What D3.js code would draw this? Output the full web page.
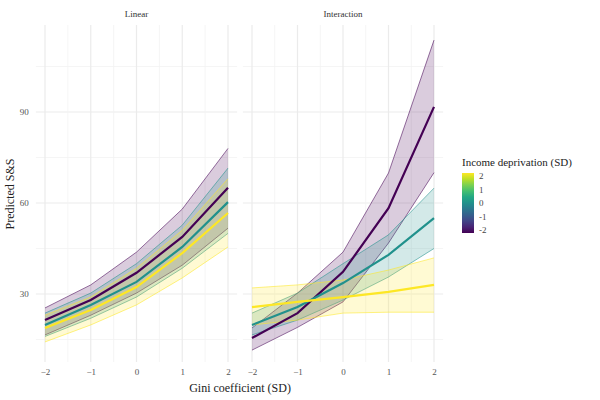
<!DOCTYPE html><html><head><meta charset="utf-8"><script src="https://cdn.jsdelivr.net/npm/d3@7"></script>
<style>body{margin:0;background:#fff}text{font-family:"Liberation Serif",serif}</style></head><body><svg id="c" width="600" height="400"></svg>
<script>
const xs=[-2,-1,0,1,2];
const panels=["Linear","Interaction"];
const levels=[-2,0,2];
// Linear panel
const linMean={"-2":[21.4,28,37,48.8,65],"0":[19.8,26.4,34,45.5,60.3],"2":[18.8,24.7,32.3,43.5,56.7]};
const linUpper={"-2":[25.4,33,43.8,58,78],"0":[23.7,30.3,40,52.7,71.5],"2":[23,29,38.5,51,68]};
const linLower={"-2":[16.5,23,30.3,39.5,51.7],"0":[16,22,29,38.5,50],"2":[14.2,19.8,26.4,35.3,45.5]};
// Interaction panel
const intMean={"-2":[15.5,23.7,37.3,58.3,91.7],"0":[19.8,25.7,33.6,42.9,55],"2":[25.7,27.4,29,30.7,33]};
const intUpper={"-2":[18.8,30.3,43.8,69.9,113.7],"0":[23.7,30.3,40,49.5,64.9],"2":[32,33,34.6,37.9,41.9]};
const intLower={"-2":[11.5,19,27.4,46.8,70],"0":[16.5,21.4,28,35.6,45],"2":[19.8,21.4,23.7,24,24]};
const yTicks=[30,60,90];
const legendTicks=[2,1,0,-1,-2];
const data=[[linMean,linUpper,linLower],[intMean,intUpper,intLower]];

const svg=d3.select("#c");
const col=d3.scaleSequential(d3.interpolateViridis).domain([-2,2]);
const y=d3.scaleLinear().domain([30,90]).range([294,112]);
const yTop=25,yBot=362;
const xr=[[45,228],[252,434]];
panels.forEach((p,i)=>{
  const x=d3.scaleLinear().domain([-2,2]).range(xr[i]);
  const g=svg.append("g");
  const x0=x(-2.2),x1=x(2.2);
  [15,45,75,105].forEach(v=>g.append("line").attr("x1",x0).attr("x2",x1).attr("y1",y(v)).attr("y2",y(v)).attr("stroke","#f2f2f2").attr("stroke-width",0.8));
  yTicks.forEach(v=>g.append("line").attr("x1",x0).attr("x2",x1).attr("y1",y(v)).attr("y2",y(v)).attr("stroke","#ebebeb").attr("stroke-width",1.2));
  [-1.5,-0.5,0.5,1.5].forEach(v=>g.append("line").attr("x1",x(v)).attr("x2",x(v)).attr("y1",yTop).attr("y2",yBot).attr("stroke","#f2f2f2").attr("stroke-width",0.8));
  xs.forEach(v=>g.append("line").attr("x1",x(v)).attr("x2",x(v)).attr("y1",yTop).attr("y2",yBot).attr("stroke","#ebebeb").attr("stroke-width",1.2));
  g.append("text").attr("x",(xr[i][0]+xr[i][1])/2).attr("y",17).attr("text-anchor","middle").attr("font-size",9).attr("fill","#333").text(p);
  const ax=g.append("g").attr("transform",`translate(0,${yBot+4})`).call(d3.axisBottom(x).tickValues(xs).tickSize(0).tickFormat(d3.format("d")));
  ax.select(".domain").remove();
  ax.selectAll("text").attr("font-family","Liberation Serif").attr("font-size",9).attr("fill","#555");
  if(i===0){
    const ay=g.append("g").attr("transform",`translate(${x0-4},0)`).call(d3.axisLeft(y).tickValues(yTicks).tickSize(0));
    ay.select(".domain").remove();
    ay.selectAll("text").attr("font-family","Liberation Serif").attr("font-size",9).attr("fill","#555");
  }
  const [M,U,L]=data[i];
  const area=d3.area().x((d,j)=>x(xs[j])).y0(d=>d[0]).y1(d=>d[1]);
  const line=d3.line().x((d,j)=>x(xs[j])).y(d=>y(d));
  levels.forEach(l=>{
    const c=col(l);
    const pts=U[l].map((u,j)=>[y(L[l][j]),y(u)]);
    g.append("path").attr("d",area(pts)).attr("fill",c).attr("fill-opacity",0.2).attr("stroke","none");
    g.append("path").attr("d",line(U[l])).attr("fill","none").attr("stroke",c).attr("stroke-width",0.8).attr("stroke-opacity",0.7);
    g.append("path").attr("d",line(L[l])).attr("fill","none").attr("stroke",c).attr("stroke-width",0.8).attr("stroke-opacity",0.7);
  });
  levels.forEach(l=>{
    g.append("path").attr("d",line(M[l])).attr("fill","none").attr("stroke",col(l)).attr("stroke-width",2.2);
  });
});
svg.append("text").attr("x",240).attr("y",392).attr("text-anchor","middle").attr("font-size",12).attr("fill","#222").text("Gini coefficient (SD)");
svg.append("text").attr("transform","translate(14,194) rotate(-90)").attr("text-anchor","middle").attr("font-size",12).attr("fill","#222").text("Predicted S&S");
// legend
const lg=svg.append("g");
lg.append("text").attr("x",462).attr("y",166).attr("font-size",11).attr("fill","#222").text("Income deprivation (SD)");
const ly=d3.scaleLinear().domain([2,-2]).range([176,230]);
const defs=svg.append("defs");
const grad=defs.append("linearGradient").attr("id","gr").attr("x1",0).attr("x2",0).attr("y1",0).attr("y2",1);
d3.range(0,1.01,0.1).forEach(t=>grad.append("stop").attr("offset",t).attr("stop-color",col(2-4*t)));
lg.append("rect").attr("x",462).attr("y",173).attr("width",12).attr("height",60).attr("fill","url(#gr)");
legendTicks.forEach(v=>{
  lg.append("text").attr("x",479).attr("y",ly(v)+3).attr("font-size",9).attr("fill","#444").text(v);
});
</script></body></html>
